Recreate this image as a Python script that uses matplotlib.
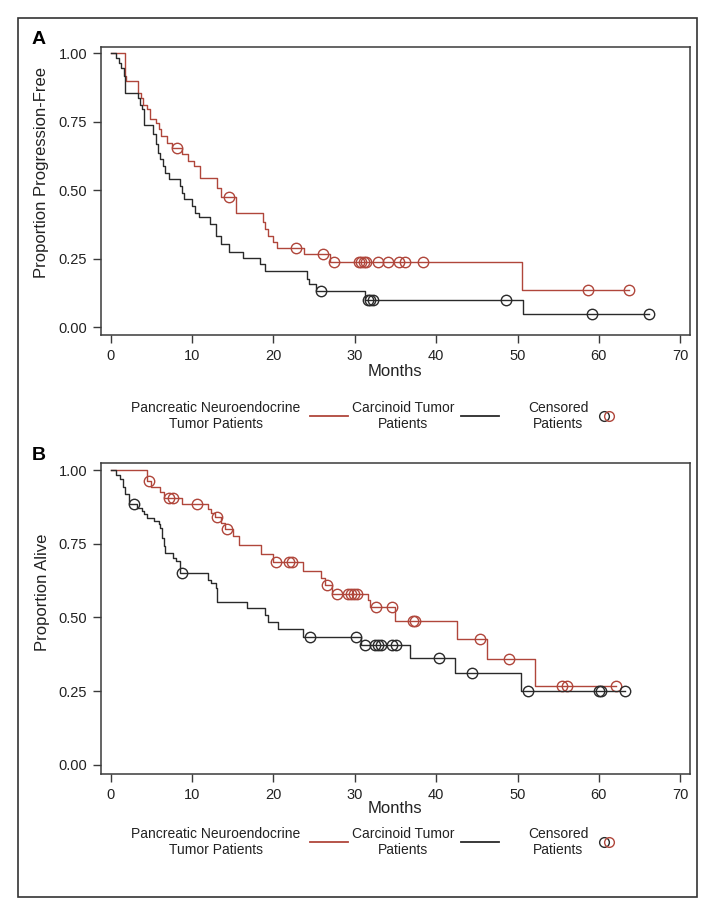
import numpy as np
import matplotlib
matplotlib.use("Agg")
import matplotlib.pyplot as plt
from matplotlib.lines import Line2D
from matplotlib.patches import Rectangle

plt.rcParams['font.family'] = ['Liberation Sans', 'DejaVu Sans']

# --- panel A: progression-free survival (months, proportion after each drop) ---
pnet_pfs_t = [1.7, 1.9, 3.4, 3.7, 4.0, 4.5, 4.8, 5.6, 5.9, 6.2, 6.9, 7.5, 8.8, 9.5,
              10.2, 11.0, 13.1, 13.5, 15.4, 18.7, 19.0, 19.3, 19.9, 20.4, 23.7, 26.9, 50.5]
pnet_pfs_s = [0.915, 0.897, 0.855, 0.836, 0.812, 0.794, 0.758, 0.745, 0.721, 0.697,
              0.673, 0.655, 0.630, 0.606, 0.588, 0.545, 0.509, 0.473, 0.418, 0.382,
              0.358, 0.333, 0.309, 0.287, 0.265, 0.238, 0.137]
pnet_pfs_cens = [8.2, 14.5, 22.8, 26.1, 27.4, 30.5, 30.8, 31.1, 31.4, 32.8, 34.1,
                 35.4, 36.2, 38.4, 58.7, 63.7]

carc_pfs_t = [0.7, 1.0, 1.3, 1.6, 1.8, 3.3, 3.6, 3.9, 4.1, 5.2, 5.5, 5.8, 6.1, 6.4,
              6.7, 7.1, 8.5, 8.7, 9.0, 10.0, 10.4, 10.8, 12.2, 12.9, 13.5, 14.5, 16.2,
              18.4, 18.9, 24.1, 24.4, 25.2, 31.2, 50.7]
carc_pfs_s = [0.982, 0.964, 0.945, 0.915, 0.855, 0.836, 0.812, 0.794, 0.739, 0.703,
              0.667, 0.636, 0.612, 0.588, 0.564, 0.539, 0.515, 0.491, 0.467, 0.442,
              0.418, 0.400, 0.376, 0.333, 0.303, 0.273, 0.252, 0.230, 0.206, 0.177,
              0.157, 0.131, 0.100, 0.046]
carc_pfs_cens = [25.9, 31.6, 31.9, 32.2, 48.6, 59.2, 66.1]

# --- panel B: overall survival ---
pnet_os_t = [4.4, 4.9, 6.1, 6.5, 8.8, 11.9, 12.3, 12.8, 13.5, 14.0, 15.0, 15.8, 18.5,
             20.0, 23.6, 25.9, 26.3, 27.2, 31.6, 31.9, 34.9, 42.5, 46.3, 52.1]
pnet_os_s = [0.962, 0.944, 0.925, 0.905, 0.885, 0.868, 0.856, 0.841, 0.822, 0.799,
             0.775, 0.745, 0.715, 0.688, 0.656, 0.635, 0.611, 0.579, 0.558, 0.537,
             0.487, 0.428, 0.358, 0.268]
pnet_os_cens = [4.7, 7.1, 7.7, 10.6, 13.1, 14.3, 20.3, 21.9, 22.3, 26.6, 27.8, 29.1,
                29.5, 29.9, 30.3, 32.6, 34.6, 37.2, 37.4, 45.4, 49.0, 55.5, 56.1, 62.1]

carc_os_t = [0.7, 1.1, 1.5, 1.8, 2.3, 3.2, 3.9, 4.1, 4.5, 5.3, 5.9, 6.1, 6.3, 6.5, 6.7,
             7.6, 8.0, 8.5, 11.9, 12.3, 12.9, 13.1, 16.8, 18.9, 19.3, 20.5, 23.6, 30.8,
             36.8, 42.3, 50.4]
carc_os_s = [0.983, 0.970, 0.942, 0.919, 0.885, 0.873, 0.862, 0.850, 0.839, 0.828,
             0.816, 0.805, 0.771, 0.742, 0.719, 0.702, 0.690, 0.651, 0.627, 0.616,
             0.599, 0.553, 0.531, 0.508, 0.485, 0.462, 0.434, 0.408, 0.363, 0.310, 0.250]
carc_os_cens = [2.8, 8.7, 24.5, 30.2, 31.3, 32.5, 32.9, 33.2, 34.6, 35.0, 40.4, 44.4,
                51.3, 60.0, 60.2, 63.2]

x_ticks = [0, 10, 20, 30, 40, 50, 60, 70]
y_ticks = [0.00, 0.25, 0.50, 0.75, 1.00]
y_ticklabels = ['0.00', '0.25', '0.50', '0.75', '1.00']
legend_labels = ['Pancreatic Neuroendocrine\nTumor Patients',
                 'Carcinoid Tumor\nPatients', 'Censored\nPatients']

W, H = 715, 913
RED = '#b0463b'
BLACK = '#2a2a2a'
AXC = '#3a3a3a'
TXT = '#222222'


def fx(x):
    return x / W


def fy(y):
    return 1 - y / H


def km(ax, t, s, cens, color):
    t = np.asarray(t)
    s = np.asarray(s)
    end = max(t.max(), max(cens))
    ax.step(np.r_[0, t, end], np.r_[1, s, s[-1]], where='post', color=color, lw=1.0)
    # censor marks sit on the curve
    idx = np.searchsorted(t, cens, side='right')
    cy = np.r_[1, s][idx]
    ax.plot(cens, cy, 'o', mfc='none', mec=color, ms=7.5, mew=1.0)


def setup(ax, ylim):
    ax.set_xlim(-1.2, 71.2)
    ax.set_ylim(*ylim)
    ax.set_xticks(x_ticks)
    ax.set_yticks(y_ticks)
    ax.set_yticklabels(y_ticklabels)
    ax.tick_params(direction='out', length=6, width=1.0, colors=AXC,
                   labelsize=10.5, labelcolor=TXT, pad=4)
    for sp in ax.spines.values():
        sp.set_linewidth(1.1)
        sp.set_color(AXC)


def legend(yc):
    kw = dict(ha='center', va='center', fontsize=10, linespacing=1.2, color=TXT)
    fig.text(fx(216), fy(yc), legend_labels[0], **kw)
    fig.add_artist(Line2D([fx(310), fx(348)], [fy(yc), fy(yc)], color=RED, lw=1.3))
    fig.text(fx(403), fy(yc), legend_labels[1], **kw)
    fig.add_artist(Line2D([fx(461), fx(499)], [fy(yc), fy(yc)], color=BLACK, lw=1.3))
    fig.text(fx(558), fy(yc), legend_labels[2], **kw)
    fig.add_artist(Line2D([fx(604)], [fy(yc)], marker='o', mfc='none', mec=BLACK, ms=7, mew=1.0))
    fig.add_artist(Line2D([fx(609)], [fy(yc)], marker='o', mfc='none', mec=RED, ms=7, mew=1.0))


fig = plt.figure(figsize=(7.15, 9.13), dpi=100)

# panel A
axA = fig.add_axes([fx(101), fy(335), fx(690) - fx(101), fy(47) - fy(335)])
setup(axA, (-0.029, 1.022))
km(axA, pnet_pfs_t, pnet_pfs_s, pnet_pfs_cens, RED)
km(axA, carc_pfs_t, carc_pfs_s, carc_pfs_cens, BLACK)
fig.text(fx(395), fy(372), 'Months', ha='center', va='center', fontsize=12, color=TXT)
fig.text(fx(42), fy(172), 'Proportion Progression-Free', ha='center', va='center',
         rotation=90, fontsize=12, color=TXT)
fig.text(fx(32), fy(40), 'A', ha='left', va='center', fontsize=14, fontweight='bold')
legend(416)

# panel B
axB = fig.add_axes([fx(101), fy(774), fx(690) - fx(101), fy(463) - fy(774)])
setup(axB, (-0.031, 1.024))
km(axB, pnet_os_t, pnet_os_s, pnet_os_cens, RED)
km(axB, carc_os_t, carc_os_s, carc_os_cens, BLACK)
fig.text(fx(395), fy(808), 'Months', ha='center', va='center', fontsize=12, color=TXT)
fig.text(fx(42), fy(592), 'Proportion Alive', ha='center', va='center',
         rotation=90, fontsize=12, color=TXT)
fig.text(fx(32), fy(455), 'B', ha='left', va='center', fontsize=14, fontweight='bold')
legend(842)

# outer frame
fig.add_artist(Rectangle((fx(18), fy(897)), fx(697) - fx(18), fy(18) - fy(897),
                         fill=False, ec='#333333', lw=1.2, transform=fig.transFigure))

fig.savefig('out.png', dpi=100)
